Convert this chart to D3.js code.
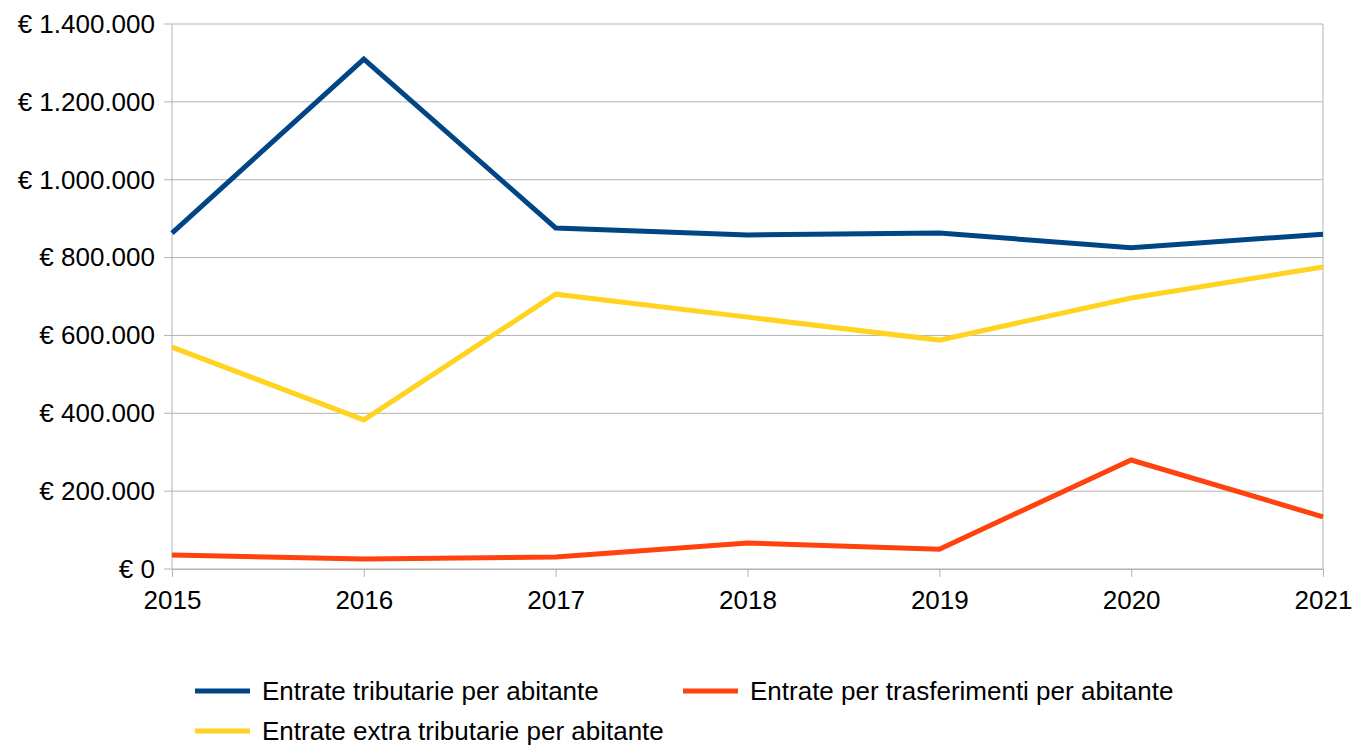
<!DOCTYPE html>
<html>
<head>
<meta charset="utf-8">
<script src="https://cdn.jsdelivr.net/npm/d3@7"></script>
<style>
  body { margin: 0; background: #fff; }
  text { font-family: "Liberation Sans", Arial, sans-serif; fill: #000; }
</style>
</head>
<body>
<div id="chart"></div>
<script>
// data
var years = ["2015", "2016", "2017", "2018", "2019", "2020", "2021"];
var tributarie = [863000, 1310000, 876000, 858000, 863000, 825000, 860000];
var trasferimenti = [36000, 26000, 31000, 67000, 51000, 280000, 134000];
var extraTributarie = [570000, 383000, 706000, 647000, 588000, 696000, 776000];
var yTicks = [0, 200000, 400000, 600000, 800000, 1000000, 1200000, 1400000];

var series = [
  {name: "Entrate tributarie per abitante", values: tributarie, color: "#004586"},
  {name: "Entrate per trasferimenti per abitante", values: trasferimenti, color: "#ff420e"},
  {name: "Entrate extra tributarie per abitante", values: extraTributarie, color: "#ffd320"}
];

var margin = {top: 24, right: 32, bottom: 178, left: 172},
    width = 1355 - margin.left - margin.right,
    height = 747 - margin.top - margin.bottom;

var svg = d3.select("#chart").append("svg")
    .attr("width", 1355)
    .attr("height", 747)
  .append("g")
    .attr("transform", "translate(" + margin.left + "," + margin.top + ")");

var x = d3.scalePoint().domain(years).range([0, width]);
var y = d3.scaleLinear().domain([0, 1400000]).range([height, 0]);

var fmt = function(d) {
  return "€ " + d3.format(",")(d).replace(/,/g, ".");
};

// gridlines
svg.selectAll(".grid")
  .data(yTicks)
  .enter().append("line")
    .attr("x1", -8).attr("x2", width)
    .attr("y1", function(d) { return y(d); })
    .attr("y2", function(d) { return y(d); })
    .attr("stroke", "#b3b3b3").attr("stroke-width", 1);

// frame sides
svg.append("line").attr("x1", 0).attr("x2", 0).attr("y1", 0).attr("y2", height)
    .attr("stroke", "#b3b3b3");
svg.append("line").attr("x1", width).attr("x2", width).attr("y1", 0).attr("y2", height)
    .attr("stroke", "#b3b3b3");

// y axis labels
var yAxis = svg.append("g")
    .call(d3.axisLeft(y).tickValues(yTicks).tickFormat(fmt).tickSize(0).tickPadding(17));
yAxis.select(".domain").remove();
yAxis.selectAll("text").style("font-size", "26px");

// x axis
var xAxis = svg.append("g")
    .attr("transform", "translate(0," + height + ")")
    .call(d3.axisBottom(x).tickSize(8).tickPadding(14));
xAxis.select(".domain").attr("stroke", "#b3b3b3");
xAxis.selectAll(".tick line").attr("stroke", "#b3b3b3");
xAxis.selectAll("text").style("font-size", "26px");

// lines
var line = d3.line()
    .x(function(d, i) { return x(years[i]); })
    .y(function(d) { return y(d); });

[series[0], series[2], series[1]].forEach(function(s) {
  svg.append("path")
      .datum(s.values)
      .attr("fill", "none")
      .attr("stroke", s.color)
      .attr("stroke-width", 5)
      .attr("stroke-linejoin", "miter")
      .attr("d", line);
});

// legend
var legendPos = [
  {x: 195, y: 691},
  {x: 683, y: 691},
  {x: 195, y: 731}
];
var legend = d3.select("svg").append("g");
series.forEach(function(s, i) {
  var p = legendPos[i];
  legend.append("line")
      .attr("x1", p.x).attr("x2", p.x + 55)
      .attr("y1", p.y).attr("y2", p.y)
      .attr("stroke", s.color).attr("stroke-width", 5);
  legend.append("text")
      .attr("x", p.x + 67).attr("y", p.y + 9)
      .style("font-size", "26px")
      .text(s.name);
});
</script>
</body>
</html>
